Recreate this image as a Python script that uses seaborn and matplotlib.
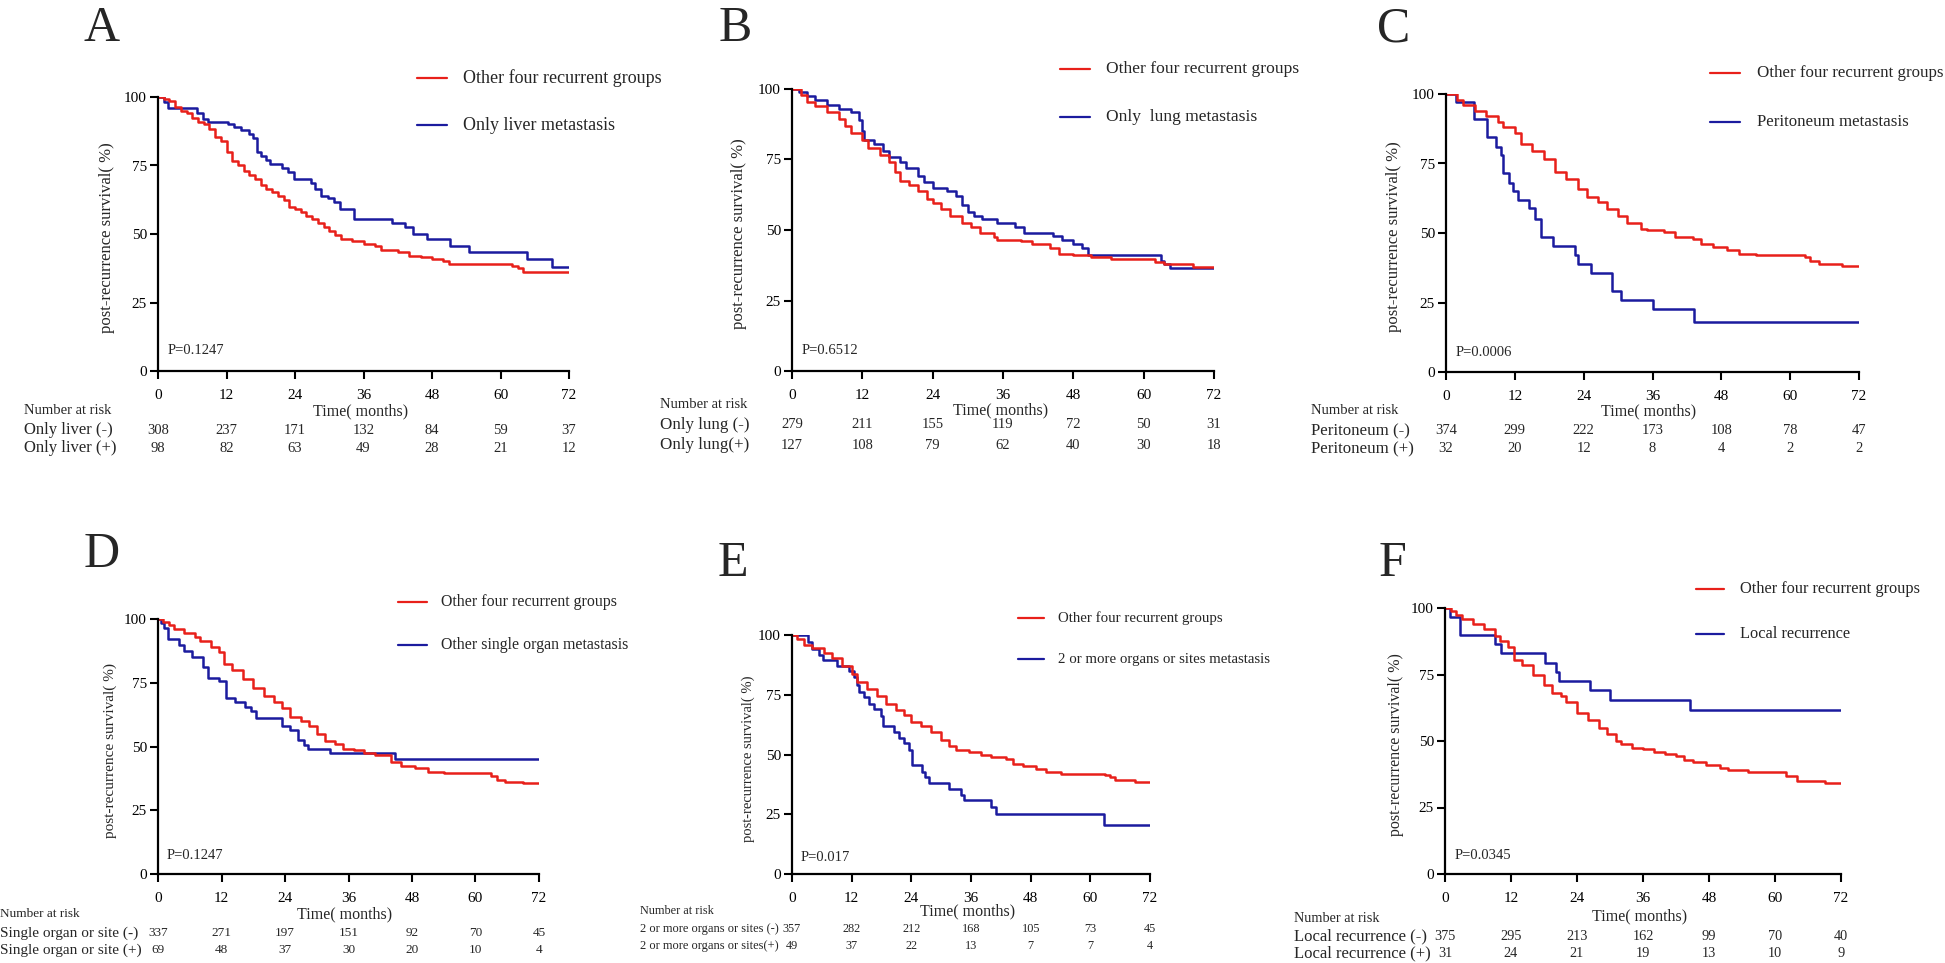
import matplotlib
matplotlib.use("Agg")
import matplotlib.pyplot as plt
import matplotlib.transforms as mtransforms
from matplotlib.lines import Line2D
import pandas as pd
import seaborn as sns

# ---------------- data ----------------
time_ticks = [0, 12, 24, 36, 48, 60, 72]
surv_ticks = [0, 25, 50, 75, 100]

red_label = "Other four recurrent groups"
panel_letters = ["A", "B", "C", "D", "E", "F"]
blue_labels = ["Only liver metastasis", "Only  lung metastasis", "Peritoneum metastasis",
               "Other single organ metastasis", "2 or more organs or sites metastasis",
               "Local recurrence"]
p_values = ["P=0.1247", "P=0.6512", "P=0.0006", "P=0.1247", "P=0.017", "P=0.0345"]
risk_labels_neg = ["Only liver (-)", "Only lung (-)", "Peritoneum (-)",
                   "Single organ or site (-)", "2 or more organs or sites (-)", "Local recurrence (-)"]
risk_labels_pos = ["Only liver (+)", "Only lung(+)", "Peritoneum (+)",
                   "Single organ or site (+)", "2 or more organs or sites(+)", "Local recurrence (+)"]

risk_a_neg = [308, 237, 171, 132, 84, 59, 37]
risk_a_pos = [98, 82, 63, 49, 28, 21, 12]
risk_b_neg = [279, 211, 155, 119, 72, 50, 31]
risk_b_pos = [127, 108, 79, 62, 40, 30, 18]
risk_c_neg = [374, 299, 222, 173, 108, 78, 47]
risk_c_pos = [32, 20, 12, 8, 4, 2, 2]
risk_d_neg = [337, 271, 197, 151, 92, 70, 45]
risk_d_pos = [69, 48, 37, 30, 20, 10, 4]
risk_e_neg = [357, 282, 212, 168, 105, 73, 45]
risk_e_pos = [49, 37, 22, 13, 7, 7, 4]
risk_f_neg = [375, 295, 213, 162, 99, 70, 40]
risk_f_pos = [31, 24, 21, 19, 13, 10, 9]

# Kaplan-Meier step curves (time in months, survival %)
a_blue_t = [0, 1, 1.7, 6.8, 7.9, 8.7, 12.3, 13.4, 14.5, 16, 16.7, 17.4, 18.1, 18.9, 19.6, 21.7, 22.8, 23.9,
            26.8, 27.5, 28.6, 29.7, 30.8, 31.9, 34.4, 41, 43.2, 44.6, 47.2, 51.2, 54.4, 64.6, 69, 72]
a_blue_s = [100, 98, 96, 94, 92, 91, 90, 89, 88, 86.5, 85, 80, 78.5, 77, 75.5, 74, 72.5, 70,
            68.5, 66.5, 64, 63, 61.5, 59, 55.5, 54, 52.5, 50, 48, 45.5, 43.5, 41, 38, 38]
a_red_t = [0, 1, 2, 3, 4, 5, 6, 7, 8, 9, 10, 11, 12, 13, 14, 15, 16, 17, 18, 19, 20, 21, 22, 23, 24, 25,
           26, 27, 28, 29, 30, 31, 32, 34, 36, 38, 39, 42, 44, 46, 48, 50, 51, 62, 63, 64, 72]
a_red_s = [100, 99.3, 98.5, 96.5, 95, 94, 92.5, 91, 90, 88.5, 85.5, 84, 80, 76.5, 75, 73, 71.5, 70, 68,
           66.5, 65.5, 64, 62.5, 60, 59, 58, 56.5, 55.5, 54, 52.5, 51, 49.5, 48.2, 47.5, 46.3, 45.5,
           44.2, 43.5, 42, 41.5, 41, 40, 39, 38.5, 37.5, 36, 36]

b_blue_t = [0, 1.2, 2.5, 4, 6, 8, 10, 11.5, 12, 12.2, 14, 15.5, 16.5, 18.5, 19.5, 21.5, 22.5, 24, 26.5,
            28, 29, 30, 31, 32.5, 35, 38, 39.5, 44.5, 46, 48, 49.5, 50.5, 63, 63.5, 64.5, 72]
b_blue_s = [100, 99, 97.5, 96, 94.5, 93, 92, 89, 85, 82, 80.5, 78, 76, 74, 72, 69, 67, 65, 64,
            62, 59, 56.5, 55, 54, 52.5, 51, 49, 48, 46.5, 45, 43.5, 41, 39, 38, 36.5, 36.5]
b_red_t = [0, 1.5, 2.5, 4, 6, 8, 9, 10, 12, 13, 15, 16.5, 17.5, 18.5, 20, 21.5, 23, 24, 25.5, 27, 29,
           30.5, 32, 34.5, 35, 39, 41, 44, 45.5, 48, 51, 54.5, 62, 63.5, 68.5, 72]
b_red_s = [100, 98, 95.5, 94, 92, 89.5, 87, 84.5, 82, 79, 76.5, 74, 70.5, 67.5, 66, 64, 61, 59.5, 57.5,
           55, 52.5, 51, 49, 47.5, 46.5, 46, 45, 43.5, 41.5, 41, 40.5, 39.8, 38.8, 38, 37, 37]

c_blue_t = [0, 1.7, 4.8, 7.2, 8.7, 9.6, 9.9, 11, 11.7, 12.5, 14.5, 15.5, 16.5, 18.7, 22.5, 23, 25.3,
            29, 30.5, 36, 43.3, 72]
c_blue_s = [100, 97, 91, 84.5, 81, 78, 71.5, 68, 65, 62, 59, 55, 48.5, 45.5, 42, 39, 35.5,
            29, 26, 22.5, 18, 18]
c_red_t = [0, 2, 3, 5, 7, 9, 10, 12, 13, 15, 17, 19, 21, 23, 24.5, 26.5, 28, 30, 31.5, 34, 35, 38, 40,
           43, 44.5, 46.5, 49, 51, 54, 62.5, 63.5, 65, 69, 72]
c_red_s = [100, 98, 96, 94, 92, 90, 88, 86, 82, 79.5, 76.5, 72, 69.5, 66, 63, 61, 58.5, 56, 53.5, 51.5,
           51, 50.5, 48.5, 48, 46, 45, 44, 42.5, 42, 41.5, 40, 39, 38, 38]

d_blue_t = [0, 0.5, 1.2, 1.8, 4, 5, 6.5, 8.5, 9.5, 11.5, 12.8, 14.5, 16.5, 17.5, 18.5, 23.5, 25, 26.5,
            27.5, 28.3, 32.5, 44.8, 72]
d_blue_s = [100, 98.5, 96.5, 92, 90, 87.5, 85, 81, 77, 75.5, 69, 67.5, 65.5, 64, 61, 58, 56.5, 52.5,
            50.5, 49, 47.3, 45, 45]
d_red_t = [0, 1, 2, 3, 5, 7, 8, 10, 11.5, 12.5, 14, 16, 18, 20, 22, 23.5, 25, 27, 28.5, 30, 31.5, 33.5,
           35, 37, 39, 41, 44, 46, 48.5, 51, 54, 63, 64, 65.5, 69, 72]
d_red_s = [100, 99, 97.5, 96, 94.5, 93, 91.5, 89, 87, 82.5, 80, 76.5, 73, 70, 67.5, 65, 61.5, 60, 58,
           55, 52, 51, 49, 48.5, 47.5, 46.5, 44, 42.5, 41.5, 40, 39.5, 38.5, 37, 36, 35.5, 35.5]

e_blue_t = [0, 3.3, 4, 5.5, 6.2, 9, 11.5, 12.5, 13, 13.5, 14.5, 15.5, 16.5, 17.8, 18.3, 20.5, 21.5,
            22.5, 23.5, 24.2, 26.2, 26.8, 27.5, 31.5, 34, 34.5, 40, 41, 62.7, 72]
e_blue_s = [100, 97, 94, 91.5, 89.5, 87, 85, 82.5, 79, 76, 74, 71, 69, 66, 62, 59.5, 57,
            55, 52, 45.5, 42.5, 40.5, 38, 35.5, 33, 31, 28, 25, 20.5, 20.5]
e_red_t = [0, 1, 2.5, 4, 6.5, 8, 10, 12, 13, 15, 17, 19, 21, 22.5, 24, 26, 28, 30, 31.5, 33, 35.5, 38,
           40, 43, 44.5, 46.5, 49, 51, 54, 63, 64, 65, 69, 72]
e_red_s = [100, 98.5, 96, 94.5, 92.5, 90.5, 87, 83.5, 80.5, 77.5, 74.5, 71, 68.5, 66.5, 63.5, 62, 59.5,
           56, 53.5, 52, 51, 50, 49, 48, 46, 45, 44, 42.5, 42, 41.5, 40.5, 39.5, 38.5, 38.5]

f_blue_t = [0, 0.9, 2.7, 9.1, 10.2, 18.2, 20.2, 20.7, 26.3, 30, 44.5, 72]
f_blue_s = [100, 96.5, 90, 86.5, 83, 79.5, 76, 72.5, 69, 65.5, 61.5, 61.5]
f_red_t = [0, 1, 2, 3, 5, 7, 9, 10, 11.5, 12.5, 14, 16, 18, 19.5, 21, 22, 24, 26, 28, 29.5, 31, 32, 34,
           36, 38, 40, 42, 43.5, 45, 47.5, 50, 51.5, 55, 62, 64, 69, 72]
f_red_s = [100, 98.8, 97.5, 96, 94, 92, 89.5, 87.5, 85.5, 80.5, 78.5, 75, 71, 68, 66.8, 64.5, 60.5, 58,
           55, 52.5, 50, 49, 47.5, 47, 46, 45, 44.3, 43, 42, 41, 40, 39, 38.5, 37, 35, 34.3, 34.3]

curves = [
    (a_red_t, a_red_s, a_blue_t, a_blue_s, risk_a_neg, risk_a_pos),
    (b_red_t, b_red_s, b_blue_t, b_blue_s, risk_b_neg, risk_b_pos),
    (c_red_t, c_red_s, c_blue_t, c_blue_s, risk_c_neg, risk_c_pos),
    (d_red_t, d_red_s, d_blue_t, d_blue_s, risk_d_neg, risk_d_pos),
    (e_red_t, e_red_s, e_blue_t, e_blue_s, risk_e_neg, risk_e_pos),
    (f_red_t, f_red_s, f_blue_t, f_blue_s, risk_f_neg, risk_f_pos),
]

# ---------------- layout (pixel geometry) ----------------
W, H = 1945, 963
RED = "#E8201A"
BLUE = "#1B1B9E"

layout = [
    dict(ax=(158, 569, 97, 371), let=(102, 41), leg=(417, 447, 78, 125, 463), p=(168, 351), yl=107,
         time=(361, 411), nar=(24, 411, 430, 448), fs=(13, 12, 12, 10.5)),
    dict(ax=(792, 1214, 89, 371), let=(735, 41), leg=(1060, 1090, 69, 117, 1106), p=(802, 351), yl=739,
         time=(1001, 410), nar=(660, 405, 425, 445), fs=(12.6, 12, 12.2, 10.5)),
    dict(ax=(1446, 1859, 94, 372), let=(1394, 41), leg=(1710, 1740, 73, 122, 1757), p=(1456, 352), yl=1394,
         time=(1649, 411), nar=(1311, 411, 431, 449), fs=(12.2, 12, 12.2, 10.5)),
    dict(ax=(158, 539, 619, 874), let=(102, 567), leg=(398, 427, 602, 645, 441), p=(167, 855), yl=110,
         time=(345, 914), nar=(0, 914, 933, 950), fs=(11.4, 11, 11, 9.5)),
    dict(ax=(792, 1150, 635, 874), let=(733, 576), leg=(1018, 1044, 618, 659, 1058), p=(801, 857), yl=748,
         time=(968, 911), nar=(640, 911, 929, 946), fs=(10.7, 10.5, 9, 8.8)),
    dict(ax=(1445, 1841, 608, 874), let=(1392, 576), leg=(1696, 1724, 589, 634, 1740), p=(1455, 855), yl=1396,
         time=(1640, 916), nar=(1294, 918, 936, 953), fs=(11.8, 11.5, 12, 10.3)),
]

sns.set_theme(style="ticks")
plt.rcParams["font.family"] = ["Liberation Serif", "DejaVu Serif"]
plt.rcParams["axes.linewidth"] = 1.5

fig = plt.figure(figsize=(W / 100, H / 100), dpi=100)
fig.patch.set_facecolor("white")


def fx(px):
    return px / W


def fy(py):
    return 1 - py / H


for i, (lay, cur) in enumerate(zip(layout, curves)):
    rt, rs, bt, bs, rneg, rpos = cur
    l, r, t, b = lay["ax"]
    ax = fig.add_axes([fx(l), fy(b), (r - l) / W, (b - t) / H])
    ax.set_facecolor("white")
    df = pd.concat([
        pd.DataFrame({"t": bt, "s": bs, "g": "blue"}),
        pd.DataFrame({"t": rt, "s": rs, "g": "red"}),
    ], ignore_index=True)
    sns.lineplot(data=df, x="t", y="s", hue="g", palette={"red": RED, "blue": BLUE},
                 estimator=None, sort=False, drawstyle="steps-post", linewidth=1.8,
                 legend=False, ax=ax)
    ax.set_xlim(0, 72)
    ax.set_ylim(0, 100)
    ax.set_xticks(time_ticks)
    ax.set_yticks(surv_ticks)
    ax.set_xlabel("")
    ax.set_ylabel("")
    fs_leg, fs_yl, fs_rows, fs_num = lay["fs"]
    ax.tick_params(axis="both", direction="out", length=6, width=1.5, color="black",
                   labelsize=11, labelcolor="black")
    ax.tick_params(axis="x", pad=7)
    ax.tick_params(axis="y", pad=2)
    for sp in ["top", "right"]:
        ax.spines[sp].set_visible(False)
    for sp in ["left", "bottom"]:
        ax.spines[sp].set_color("black")
        ax.spines[sp].set_linewidth(1.6)
        ax.spines[sp].set_zorder(5)

    # panel letter
    lx, ly = lay["let"]
    fig.text(fx(lx), fy(ly), panel_letters[i], fontsize=36, ha="center", va="baseline")

    # legend
    x0, x1, yr, yb, tx = lay["leg"]
    fig.add_artist(Line2D([fx(x0), fx(x1)], [fy(yr), fy(yr)], color=RED, lw=1.6, transform=fig.transFigure))
    fig.add_artist(Line2D([fx(x0), fx(x1)], [fy(yb), fy(yb)], color=BLUE, lw=1.6, transform=fig.transFigure))
    fig.text(fx(tx), fy(yr), red_label, fontsize=fs_leg, ha="left", va="center")
    fig.text(fx(tx), fy(yb), blue_labels[i], fontsize=fs_leg, ha="left", va="center")

    # p value
    px_, py_ = lay["p"]
    fig.text(fx(px_), fy(py_), p_values[i], fontsize=10.5, ha="left", va="center")

    # y label
    fig.text(fx(lay["yl"]), fy((t + b) / 2 + 4), "post-recurrence survival( %)", fontsize=fs_yl,
             rotation=90, ha="center", va="center")

    # time label
    tmx, tmy = lay["time"]
    fig.text(fx(tmx), fy(tmy), "Time( months)", fontsize=11.5, ha="center", va="center")

    # number at risk
    nx, ny, r1, r2 = lay["nar"]
    fig.text(fx(nx), fy(ny), "Number at risk", fontsize=fs_num, ha="left", va="center")
    fig.text(fx(nx), fy(r1), risk_labels_neg[i], fontsize=fs_rows, ha="left", va="center")
    fig.text(fx(nx), fy(r2), risk_labels_pos[i], fontsize=fs_rows, ha="left", va="center")
    trans = mtransforms.blended_transform_factory(ax.transData, fig.transFigure)
    for tt, vn, vp in zip(time_ticks, rneg, rpos):
        ax.text(tt, fy(r1), str(vn), transform=trans, fontsize=fs_num, ha="center", va="center")
        ax.text(tt, fy(r2), str(vp), transform=trans, fontsize=fs_num, ha="center", va="center")

fig.savefig("out.png", dpi=100, facecolor="white")
